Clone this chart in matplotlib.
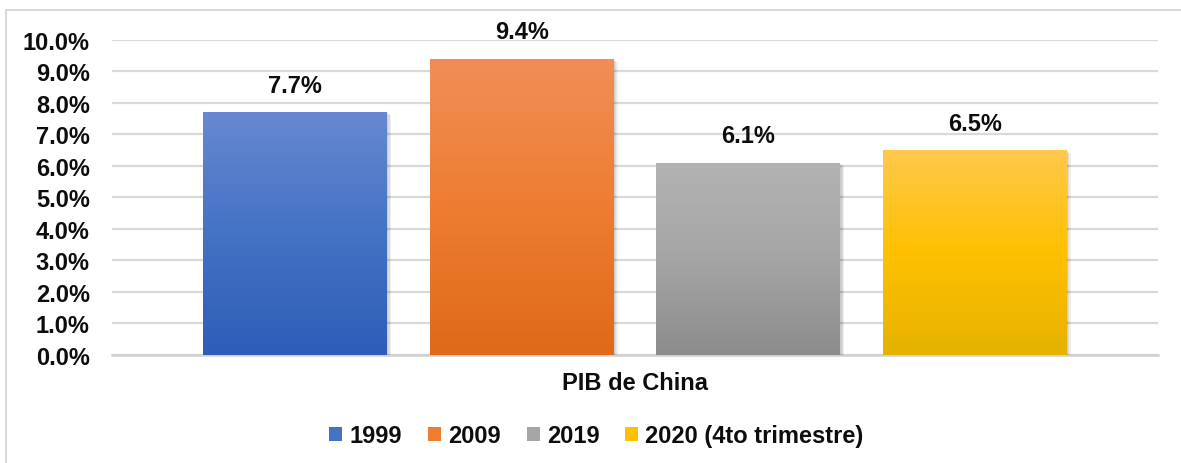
import matplotlib.pyplot as plt
import matplotlib.patheffects as pe
from matplotlib.colors import LinearSegmentedColormap
from matplotlib.patches import Rectangle, Patch
import numpy as np

plt.rcParams['font.family'] = ['Liberation Sans', 'DejaVu Sans']

category = "PIB de China"
years = ["1999", "2009", "2019", "2020 (4to trimestre)"]
values = [0.077, 0.094, 0.061, 0.065]
labels = ["7.7%", "9.4%", "6.1%", "6.5%"]

# top / middle / bottom colours of each bar gradient
grads = [
    ["#6788d0", "#4472c4", "#2d5db8"],
    ["#f18e57", "#ed7d31", "#e0691a"],
    ["#b3b3b3", "#a5a5a5", "#8c8c8c"],
    ["#ffc94d", "#ffc000", "#e5b200"],
]

fig = plt.figure(figsize=(11.81, 4.64), dpi=100)
ax = fig.add_axes([112 / 1181, 1 - 355.7 / 464, (1158 - 112) / 1181, (355.7 - 40.7) / 464])

width = 0.1756
step = 0.2166
ramp = np.linspace(0, 1, 256).reshape(-1, 1)
fs = 17

# soft shadow: a few faint offset copies
shadow = [pe.SimplePatchShadow(offset=(o, -o * 0.8), shadow_rgbFace="#000000", alpha=0.07)
          for o in (1.0, 2.0, 3.0)] + [pe.Normal()]

for i, (v, lab, g) in enumerate(zip(values, labels, grads)):
    x = (i - 1.5) * step
    bar = ax.bar(x, v, width, color=g[1], zorder=3, label=years[i], path_effects=shadow)[0]
    cmap = LinearSegmentedColormap.from_list("g%d" % i, [g[2], g[1], g[0]])
    im = ax.imshow(ramp, extent=[x - width / 2, x + width / 2, 0, v], origin="lower",
                   aspect="auto", cmap=cmap, zorder=4)
    im.set_clip_path(bar)
    ax.annotate(lab, (x, v), xytext=(0, 11), textcoords="offset points",
                ha="center", va="bottom", fontsize=fs, fontweight="bold", color="#0d0d0d")

ax.set_xlim(-0.5, 0.5)
ax.set_ylim(0, 0.10)
ax.set_yticks(np.arange(0, 0.1001, 0.01))
ax.set_yticklabels(["%.1f%%" % (t * 100) for t in np.arange(0, 0.1001, 0.01)])
ax.set_xticks([0])
ax.set_xticklabels([category])
ax.tick_params(axis="y", length=0, pad=16, labelsize=fs, labelcolor="#0d0d0d")
ax.tick_params(axis="x", length=0, pad=12, labelsize=fs, labelcolor="#0d0d0d")
for t in ax.get_yticklabels() + ax.get_xticklabels():
    t.set_fontweight("bold")

ax.grid(axis="y", color="#d9d9d9", linewidth=1.6, zorder=0)
ax.set_axisbelow(True)
for s in ["top", "right", "left"]:
    ax.spines[s].set_visible(False)
ax.spines["bottom"].set_color("#d0d0d0")
ax.spines["bottom"].set_linewidth(1.8)
ax.spines["bottom"].set_zorder(2)

handles = [Patch(facecolor=g[1], edgecolor="none") for g in grads]
leg = fig.legend(handles, years, loc="center", bbox_to_anchor=(596.5 / 1181, 1 - 437 / 464),
                 ncol=4, frameon=False, handlelength=0.55, handleheight=0.55,
                 handletextpad=0.3, columnspacing=1.1, prop={"size": fs, "weight": "bold"})
for t in leg.get_texts():
    t.set_color("#0d0d0d")

fig.patches.append(Rectangle((6 / 1181, -0.1), 1.2, 1.1 - 11 / 464, transform=fig.transFigure,
                             fill=False, edgecolor="#d9d9d9", linewidth=1.5))

fig.savefig("out.png", dpi=100)
